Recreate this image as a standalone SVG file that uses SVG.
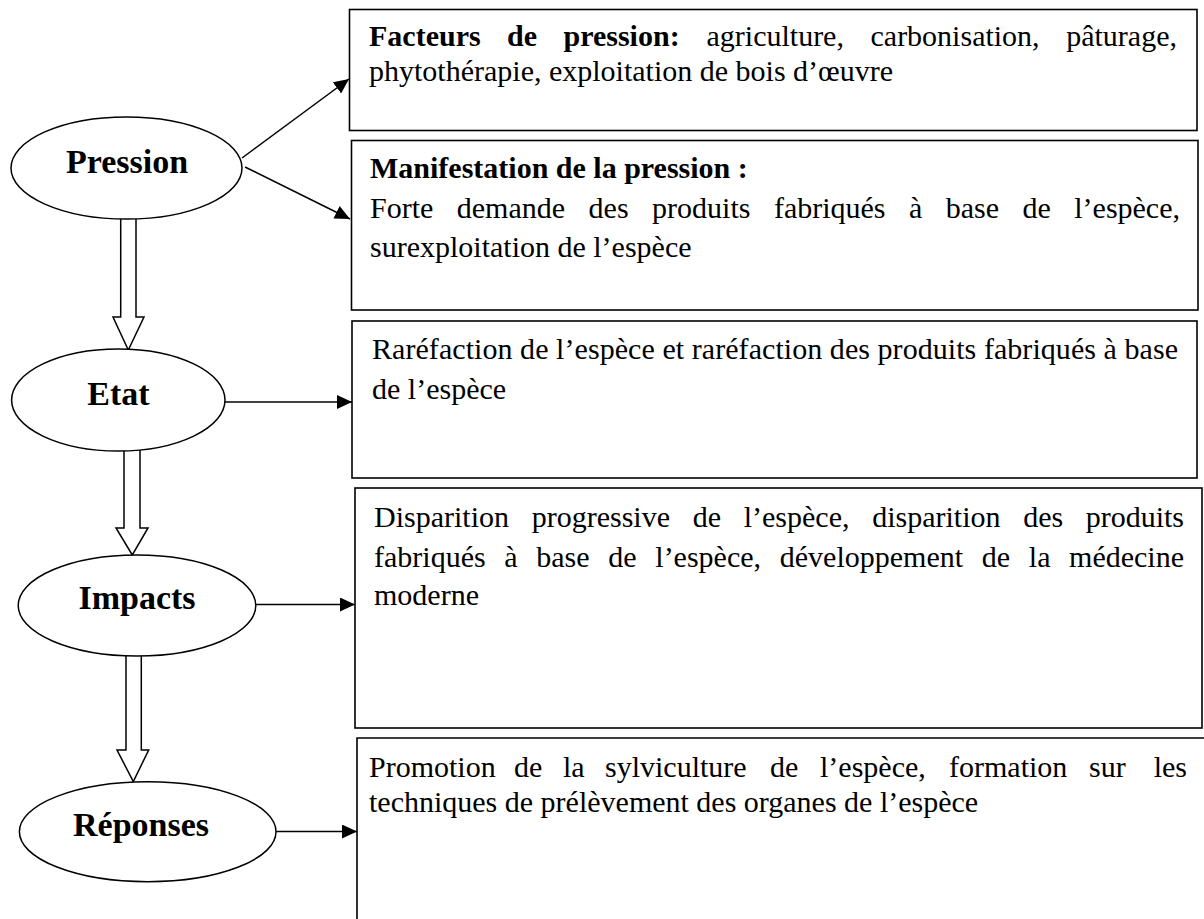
<svg xmlns="http://www.w3.org/2000/svg" width="1204" height="919" viewBox="0 0 1204 919">
<style>
.box{fill:#fff;stroke:#000;stroke-width:1.6}
.ell{fill:#fff;stroke:#000;stroke-width:1.5}
.lbl{font-family:"Liberation Serif","Times New Roman",serif;font-weight:bold;font-size:34px;text-anchor:middle;fill:#000}
.t{font-family:"Liberation Serif","Times New Roman",serif;font-size:30px;fill:#000}
.b{font-weight:bold}
.e{text-anchor:end}
.con{stroke:#000;stroke-width:1.5;fill:none}
.blk{fill:#fff;stroke:#000;stroke-width:1.5}
</style>
<defs>
<marker id="ah" markerUnits="userSpaceOnUse" markerWidth="16" markerHeight="14" refX="15" refY="7" orient="auto">
<path d="M0,0 L15,7 L0,14 Z" fill="#000"/>
</marker>
</defs>

<g id="box-facteurs">
<rect class="box" x="349.5" y="9.5" width="847.5" height="121"/>
<text class="t b" x="369" y="46">Facteurs</text>
<text class="t b" x="507" y="46">de</text>
<text class="t b" x="563.5" y="46">pression:</text>
<text class="t" x="706.5" y="46">agriculture,</text>
<text class="t" x="870.5" y="46">carbonisation,</text>
<text class="t e" x="1177" y="46">pâturage,</text>
<text class="t" x="369" y="81">phytothérapie, exploitation de bois d’œuvre</text>
</g>

<g id="box-manifestation">
<rect class="box" x="351.5" y="140.5" width="846.5" height="169.5"/>
<text class="t b" x="370" y="178">Manifestation de la pression :</text>
<text class="t" x="370" y="218">Forte</text>
<text class="t" x="456.8" y="218">demande</text>
<text class="t" x="588.6" y="218">des</text>
<text class="t" x="652.1" y="218">produits</text>
<text class="t" x="773.9" y="218">fabriqués</text>
<text class="t" x="909" y="218">à</text>
<text class="t" x="945.8" y="218">base</text>
<text class="t" x="1022.6" y="218">de</text>
<text class="t e" x="1180" y="218">l’espèce,</text>
<text class="t" x="370" y="257">surexploitation de l’espèce</text>
</g>

<g id="box-etat">
<rect class="box" x="352" y="321" width="845" height="157"/>
<text class="t" x="372" y="359" textLength="806" lengthAdjust="spacing">Raréfaction de l’espèce et raréfaction des produits fabriqués à base</text>
<text class="t" x="372" y="399">de l’espèce</text>
</g>

<g id="box-impacts">
<rect class="box" x="355" y="488" width="847" height="240"/>
<text class="t" x="374" y="527">Disparition</text>
<text class="t" x="531.7" y="527">progressive</text>
<text class="t" x="692.7" y="527">de</text>
<text class="t" x="743.7" y="527">l’espèce,</text>
<text class="t" x="872.2" y="527">disparition</text>
<text class="t" x="1023.2" y="527">des</text>
<text class="t e" x="1184" y="527">produits</text>
<text class="t" x="374" y="567">fabriqués</text>
<text class="t" x="504.3" y="567">à</text>
<text class="t" x="536.3" y="567">base</text>
<text class="t" x="608.3" y="567">de</text>
<text class="t" x="655.3" y="567">l’espèce,</text>
<text class="t" x="779.8" y="567">développement</text>
<text class="t" x="981.8" y="567">de</text>
<text class="t" x="1028.8" y="567">la</text>
<text class="t e" x="1184" y="567">médecine</text>
<text class="t" x="374" y="605">moderne</text>
</g>

<g id="box-reponses">
<path class="box" d="M1212,738 H357 V925"/>
<text class="t" x="369" y="777">Promotion</text>
<text class="t" x="514" y="777">de</text>
<text class="t" x="563" y="777">la</text>
<text class="t" x="605" y="777">sylviculture</text>
<text class="t" x="770" y="777">de</text>
<text class="t" x="820" y="777">l’espèce,</text>
<text class="t" x="949" y="777">formation</text>
<text class="t" x="1089" y="777">sur</text>
<text class="t e" x="1187" y="777">les</text>
<text class="t" x="369" y="812">techniques de prélèvement des organes de l’espèce</text>
</g>

<g id="connectors">
<line class="con" x1="242" y1="158" x2="349" y2="79" marker-end="url(#ah)"/>
<line class="con" x1="245" y1="167" x2="350" y2="219" marker-end="url(#ah)"/>
<line class="con" x1="225" y1="402" x2="352" y2="402" marker-end="url(#ah)"/>
<line class="con" x1="256" y1="604.5" x2="355" y2="604.5" marker-end="url(#ah)"/>
<line class="con" x1="276" y1="831.5" x2="357" y2="831.5" marker-end="url(#ah)"/>
<path class="blk" d="M120.7,219 V317 H113 L128.3,350 L144,317 H136 V219"/>
<path class="blk" d="M124,450 V528 H116 L132.3,555 L148,528 H140 V450"/>
<path class="blk" d="M126,656 V750 H117 L133.3,781.5 L148.7,750 H141.3 V656"/>
</g>

<g id="node-pression">
<ellipse class="ell" cx="126.5" cy="168" rx="115.5" ry="51"/>
<text class="lbl" x="127" y="173">Pression</text>
</g>
<g id="node-etat">
<ellipse class="ell" cx="118.3" cy="400" rx="106.7" ry="51"/>
<text class="lbl" x="118.5" y="405">Etat</text>
</g>
<g id="node-impacts">
<ellipse class="ell" cx="137" cy="605.5" rx="118.8" ry="50.5"/>
<text class="lbl" x="137" y="609">Impacts</text>
</g>
<g id="node-reponses">
<ellipse class="ell" cx="147.7" cy="831.7" rx="128.3" ry="50"/>
<text class="lbl" x="141" y="836">Réponses</text>
</g>
</svg>
